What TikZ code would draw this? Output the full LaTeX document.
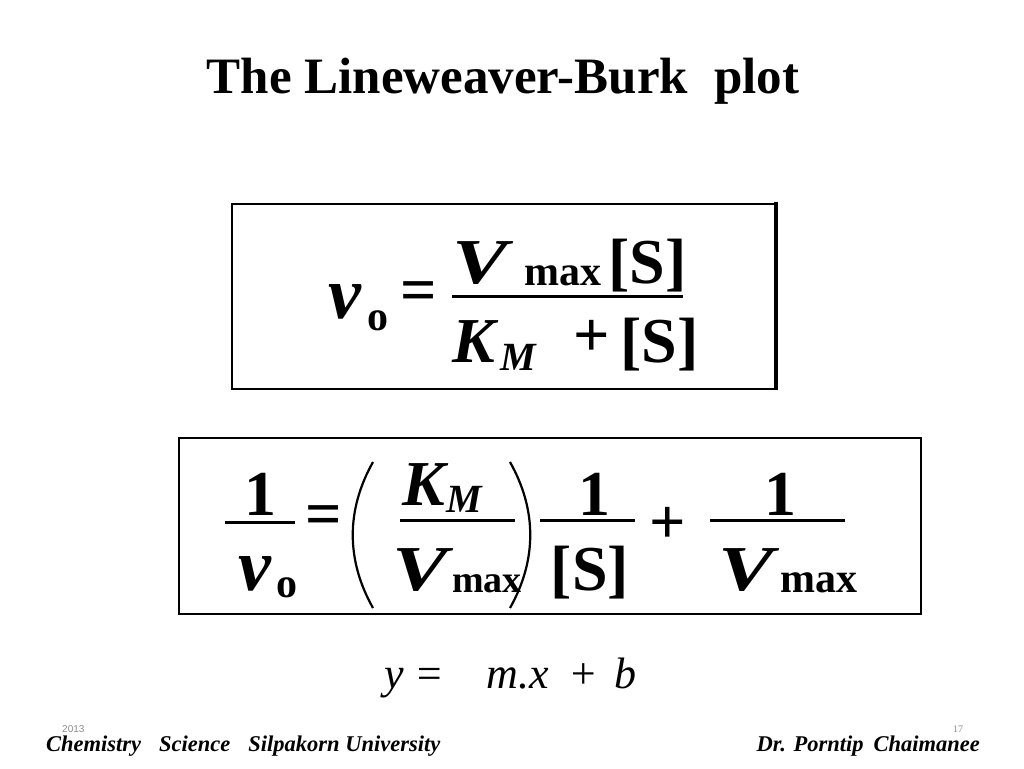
\documentclass[tikz,border=0pt]{standalone}
\usepackage{fontspec}
\usepackage{graphicx}
\setmainfont{Liberation Serif}
\newfontfamily\sansf{Liberation Sans}
\newcommand{\wideV}{\scalebox{1.3}[1]{V}}
\begin{document}
\begin{tikzpicture}[x=1pt,y=-1pt,
  t/.style={inner sep=0pt,anchor=base west},
  tc/.style={inner sep=0pt,anchor=base},
  big/.style={font=\fontsize{64}{64}\selectfont\bfseries},
  bigv/.style={font=\fontsize{74}{74}\selectfont\bfseries\itshape},
  bigi/.style={font=\fontsize{64}{64}\selectfont\bfseries\itshape},
  sub/.style={font=\fontsize{42}{42}\selectfont\bfseries},
  subs/.style={font=\fontsize{38}{38}\selectfont\bfseries},
  subi/.style={font=\fontsize{40}{40}\selectfont\bfseries\itshape},
  frac/.style={line width=3pt},
  frame/.style={line width=2.5pt},
  gray/.style={text=black!45}]
\useasboundingbox[fill=white] (0,0) rectangle (1024,768);

% title
\node[tc,font=\fontsize{51}{51}\selectfont\bfseries] (title) at (503,93) {The Lineweaver-Burk\hspace{26pt}plot};

% box 1
\draw[frame] (232,204) rectangle (776,389);
\draw[line width=4pt] (776,202) -- (776,390);
\node[t,bigv] (v1) at (328,318) {v};
\node[t,sub] (o1) at (367,330) {o};
\node[inner sep=0pt,big] (eq1) at (419,297) {=};
\draw[frac] (452,296) -- (683,296);
\node[t,bigi] (V1) at (452,283) {\wideV};
\node[t,sub] (max1) at (524,285) {max};
\node[t,big] (S1) at (608,283) {[S]};
\node[t,bigi] (K1) at (452,362) {K};
\node[t,subi] (M1) at (500,370) {M};
\node[inner sep=0pt,big] (plus1) at (592,338) {+};
\node[t,big] (S1b) at (620,362) {[S]};

% box 2
\draw[frame] (179,438) rectangle (921,614);
\node[tc,big] (one1) at (260,515) {1};
\draw[frac] (225,522) -- (295,522);
\node[t,bigv] (v2) at (238,590) {v};
\node[t,sub] (o2) at (276,597) {o};
\node[inner sep=0pt,big] (eq2) at (324,521) {=};
\draw[line width=2.2pt] (373,462) .. controls (346,510) and (346,560) .. (373,608);
\node[t,bigi] (K2) at (402,505) {K};
\node[t,subi] (M2) at (446,512) {M};
\draw[frac] (400,520) -- (515,520);
\node[t,bigi] (V2) at (392,590) {\wideV};
\node[t,subs] (max2) at (452,592) {max};
\draw[line width=2.2pt] (510,462) .. controls (537,510) and (537,560) .. (510,608);
\node[tc,big] (one2) at (594,515) {1};
\draw[frac] (540,520) -- (635,520);
\node[tc,big] (S2) at (590,590) {[S]};
\node[inner sep=0pt,big] (plus2) at (668,525) {+};
\node[tc,big] (one3) at (780,515) {1};
\draw[frac] (710,520) -- (845,520);
\node[t,bigi] (V3) at (718,590) {\wideV};
\node[t,sub] (max3) at (780,592) {max};

% line equation
\node[t,font=\fontsize{44}{44}\selectfont\itshape] (lin) at (384,688) {y =\hspace{42pt}m.x\hspace{20pt}+\hspace{16pt}b};

% footer
\node[t,font=\fontsize{22.5}{22.5}\selectfont\bfseries\itshape] (foot1) at (46,751) {Chemistry\hspace{18pt}Science\hspace{18pt}Silpakorn University};
\node[inner sep=0pt,anchor=base east,font=\fontsize{22.5}{22.5}\selectfont\bfseries\itshape] (foot2) at (980,751) {Dr. Porntip\hspace{10pt}Chaimanee};
\node[t,gray,font=\fontsize{10}{10}\selectfont\sansf] (year) at (62,732) {2013};
\node[t,gray,font=\fontsize{10}{10}\selectfont] (page) at (953,732) {17};
\end{tikzpicture}
\end{document}
